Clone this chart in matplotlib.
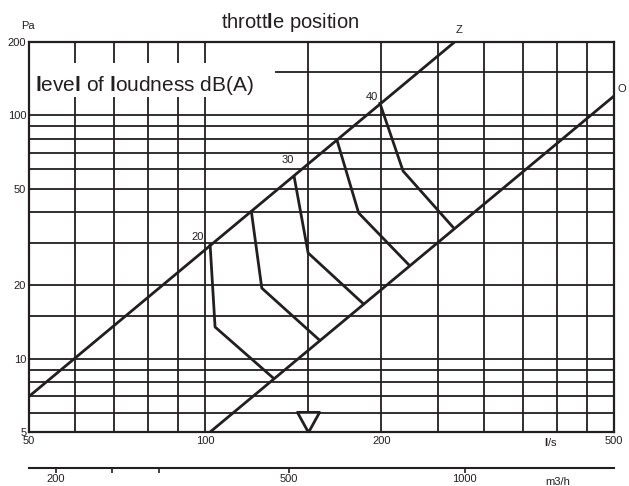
import matplotlib.pyplot as plt
from matplotlib.patches import Rectangle
from matplotlib.ticker import NullLocator

plt.rcParams['font.family'] = ['Liberation Sans', 'DejaVu Sans']
plt.rcParams['mathtext.fontset'] = 'custom'
plt.rcParams['mathtext.rm'] = 'Liberation Sans'
plt.rcParams['mathtext.bf'] = 'Liberation Sans:bold'

INK = '#231f20'

# throttle line Z and fully open line O (end points)
z_flow = [50, 267]
z_pres = [7.0, 200]
o_flow = [102, 500]
o_pres = [5, 120]

# level of loudness curves dB(A): point on Z, kink, point on O
levels = [20, 25, 30, 35, 40]
curve_flow = [[102, 104, 131], [120, 125, 157], [142, 150, 186],
              [168, 183, 223], [199, 218, 265]]
curve_pres = [[29.3, 13.5, 8.3], [40.1, 19.5, 11.9], [55.8, 27.2, 16.9],
              [79.2, 39.7, 24.3], [112, 59, 34.8]]
labelled = [20, 30, 40]

x_major = [50, 100, 200, 500]
x_minor = [60, 70, 80, 90, 150, 250, 300, 350, 400, 450]
y_major = [5, 10, 20, 50, 100, 200]
y_minor = [6, 7, 8, 9, 15, 30, 40, 60, 70, 80, 90, 150]

m3h_ticks = [200, 250, 300, 500, 1000]
m3h_labels = ['200', '', '', '500', '1000']

marker_flow = 150

fig = plt.figure(figsize=(6.29, 4.86), dpi=100)
ax = fig.add_axes([29 / 629, 54 / 486, 585 / 629, 390 / 486])
ax.set_xscale('log')
ax.set_yscale('log')
ax.set_xlim(50, 500)
ax.set_ylim(5, 200)
ax.set_xticks(x_major, labels=[str(v) for v in x_major])
ax.set_xticks(x_minor, labels=[''] * len(x_minor), minor=True)
ax.set_yticks(y_major, labels=[str(v) for v in y_major])
ax.set_yticks(y_minor, labels=[''] * len(y_minor), minor=True)
ax.tick_params(which='both', length=0, labelsize=8, colors=INK)
ax.tick_params(axis='x', pad=3)
ax.tick_params(axis='y', pad=2)
ax.set_axisbelow(True)
ax.grid(which='both', color=INK, lw=1.3)
for s in ax.spines.values():
    s.set_linewidth(1.6)
    s.set_color(INK)
    s.set_zorder(5)

# white box behind the loudness text
ax.add_patch(Rectangle((0, 335 / 390), 246 / 585, 34 / 390, transform=ax.transAxes,
                       fc='white', ec='none', zorder=1.8))
ax.text(6 / 585, 341 / 390, r'$\mathbf{l}$eve$\mathbf{l}$ of $\mathbf{l}$oudness dB(A)',
        transform=ax.transAxes, fontsize=15, color=INK, va='baseline', zorder=2)

lw = 2.0
ax.plot(z_flow, z_pres, color=INK, lw=lw, zorder=3)
ax.plot(o_flow, o_pres, color=INK, lw=lw, zorder=3)
ax.annotate('Z', (z_flow[-1], z_pres[-1]), xytext=(4, 12), textcoords='offset pixels',
            ha='center', va='center', fontsize=8, color=INK, annotation_clip=False)
ax.annotate('O', (o_flow[-1], o_pres[-1]), xytext=(8, 7), textcoords='offset pixels',
            ha='center', va='center', fontsize=8, color=INK, annotation_clip=False)

label_offset = {20: (-13, 8), 30: (-6, 17), 40: (-8, 6)}
for lev, q, p in zip(levels, curve_flow, curve_pres):
    ax.plot(q, p, color=INK, lw=lw, zorder=3)
    if lev in labelled:
        ax.annotate(str(lev), (q[0], p[0]), xytext=label_offset[lev],
                    textcoords='offset pixels', ha='center', va='center',
                    fontsize=8, color=INK)

# operating point marker on the bottom edge
tri = [(0, 0), (-1.1, 2), (1.1, 2), (0, 0)]
ax.plot([marker_flow], [ax.get_ylim()[0]], ls='none', marker=tri, ms=29,
        mfc='white', mec=INK, mew=2, clip_on=False, zorder=6)

# second flow scale in m3/h
ax2 = fig.add_axes([29 / 629, 18 / 486, 585 / 629, 0.0001])
ax2.set_xscale('log')
ax2.set_xlim(50 * 3.6, 500 * 3.6)
ax2.set_xticks(m3h_ticks, labels=m3h_labels)
ax2.xaxis.set_minor_locator(NullLocator())
ax2.yaxis.set_visible(False)
ax2.patch.set_visible(False)
for side in ['top', 'left', 'right']:
    ax2.spines[side].set_visible(False)
ax2.spines['bottom'].set_linewidth(1.5)
ax2.spines['bottom'].set_color(INK)
ax2.tick_params(direction='out', length=3.5, width=1.2, pad=1, labelsize=8, colors=INK)

fig.text(290 / 629, 1 - 28 / 486, 'thrott' + r'$\mathbf{l}$' + 'e position', ha='center',
         va='baseline', fontsize=14.5, color=INK)
fig.text(551 / 629, 1 - 442 / 486, r'$\mathbf{l}$/s', ha='center', va='center',
         fontsize=8, color=INK)
fig.text(558 / 629, 1 - 482 / 486, 'm3/h', ha='center', va='center', fontsize=8, color=INK)
fig.text(28 / 629, 1 - 26 / 486, 'Pa', ha='center', va='center', fontsize=8, color=INK)

fig.savefig('out.png', dpi=100)
